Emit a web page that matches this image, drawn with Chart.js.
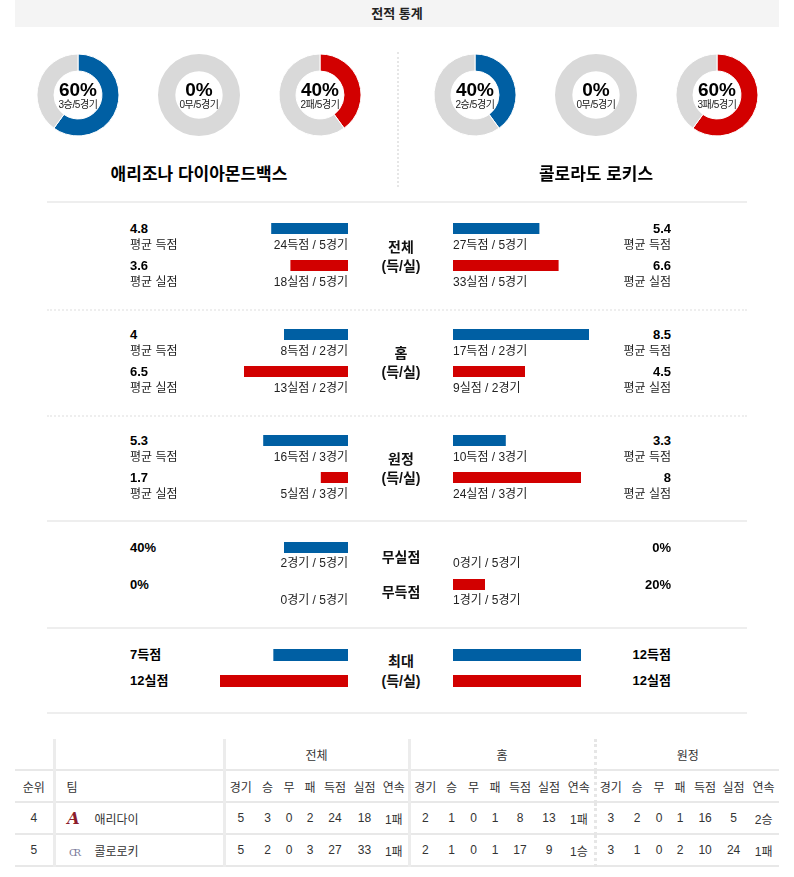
<!DOCTYPE html>
<html lang="ko">
<head>
<meta charset="utf-8">
<script src="https://cdn.jsdelivr.net/npm/chart.js@4.4.1/dist/chart.umd.min.js"></script>
<style>
  body { margin: 0; background: #fff; font-family: "Liberation Sans", "Noto Sans CJK KR", sans-serif; color: #111; }
  #page { position: relative; width: 794px; height: 877px; overflow: hidden; }
  #page canvas { position: absolute; }
  .t { position: absolute; white-space: nowrap; line-height: 20px; font-size: 12px; color: #222; }
  .num { font-weight: bold; font-size: 13px; color: #000; }
  .mid { font-weight: bold; font-size: 14px; color: #111; }
  .pct { font-weight: bold; font-size: 19px; color: #000; }
  .sub { font-size: 10px; letter-spacing: -0.4px; color: #222; }
  .team { font-weight: bold; font-size: 17px; color: #000; }
  .hline { position: absolute; left: 47px; width: 700px; height: 0; border-top: 2px solid #eeeeee; }
  .hline.dot { border-top-style: dotted; }
  #title { position: absolute; left: 15px; top: 0; width: 764px; height: 27px; background: #f4f4f4;
           text-align: center; line-height: 27px; font-size: 13px; font-weight: bold; color: #222; }
  #vdiv { position: absolute; left: 397px; top: 52px; height: 135px; border-left: 2px dotted #e6e6e6; }
  #standings { position: absolute; left: 15px; top: 739px; width: 764px; border-collapse: collapse;
               table-layout: fixed; font-size: 12px; color: #333; }
  #standings td { padding: 0; text-align: center; white-space: nowrap; height: 30px; border-bottom: 2px solid #e8e8e8; }
  #standings td.vs { border-right: 3px solid #ececec; }
  #standings td.vd { border-right: 3px dotted #e6e6e6; }
  #standings td.name { text-align: left; padding-left: 11px; }
  .logo { display: inline-block; width: 14px; margin-right: 14px; text-align: center; font-family: "DejaVu Serif", serif; }
</style>
</head>
<body>
<div id="page">
  <div id="title">전적 통계</div>
  <div id="vdiv"></div>
</div>
<script>
const BLUE = '#005fa3';
const RED = '#d20000';
const RING = '#d9d9d9';

// 최근 5경기 승/무/패
const teamNames = ['애리조나 다이아몬드백스', '콜로라도 로키스'];
const resultNames = ['승', '무', '패'];
const gamesPlayed = 5;
const arizonaResults = [3, 0, 2];
const coloradoResults = [2, 0, 3];

// 득점/실점 (전체, 홈, 원정)
const splitNames = ['전체', '홈', '원정'];
const splitGames = [5, 2, 3];
const arizonaScored = [24, 8, 16];
const arizonaAllowed = [18, 13, 5];
const arizonaAvgScored = [4.8, 4, 5.3];
const arizonaAvgAllowed = [3.6, 6.5, 1.7];
const coloradoScored = [27, 17, 10];
const coloradoAllowed = [33, 9, 24];
const coloradoAvgScored = [5.4, 8.5, 3.3];
const coloradoAvgAllowed = [6.6, 4.5, 8];

// 무실점 / 무득점
const shutoutNames = ['무실점', '무득점'];
const arizonaShutoutGames = [2, 0];
const arizonaShutoutPct = [40, 0];
const coloradoShutoutGames = [0, 1];
const coloradoShutoutPct = [0, 20];

// 최대 득점 / 실점
const arizonaMax = [7, 12];
const coloradoMax = [12, 12];

// 순위표
const tableGroups = ['전체', '홈', '원정'];
const tableColumns = ['경기', '승', '무', '패', '득점', '실점', '연속'];
const standingRanks = [4, 5];
const standingTeams = ['애리다이', '콜로로키'];
const arizonaTotal = [5, 3, 0, 2, 24, 18, '1패'];
const arizonaHome = [2, 1, 0, 1, 8, 13, '1패'];
const arizonaAway = [3, 2, 0, 1, 16, 5, '2승'];
const coloradoTotal = [5, 2, 0, 3, 27, 33, '1패'];
const coloradoHome = [2, 1, 0, 1, 17, 9, '1승'];
const coloradoAway = [3, 1, 0, 2, 10, 24, '1패'];

const page = document.getElementById('page');

function text(str, x, y, cls, align) {
    const el = document.createElement('div');
    el.className = 't ' + (cls || '');
    el.textContent = str;
    el.style.top = (y - 10) + 'px';
    if (align === 'right') {
        el.style.right = (794 - x) + 'px';
    } else if (align === 'center') {
        el.style.left = x + 'px';
        el.style.transform = 'translateX(-50%)';
    } else {
        el.style.left = x + 'px';
    }
    page.appendChild(el);
}

function makeCanvas(left, top, w, h) {
    const c = document.createElement('canvas');
    c.width = w;
    c.height = h;
    c.style.left = left + 'px';
    c.style.top = top + 'px';
    page.appendChild(c);
    return c;
}

// DONUTS
const donutX = [[78, 199, 320], [475, 596, 717]];
const donutY = 95;
const resultColors = [BLUE, BLUE, RED];

[arizonaResults, coloradoResults].forEach((results, t) => {
    results.forEach((v, i) => {
        const cx = donutX[t][i];
        const canvas = makeCanvas(cx - 45, donutY - 45, 90, 90);
        new Chart(canvas, {
            type: 'doughnut',
            data: {
                labels: [resultNames[i], ''],
                datasets: [{
                    data: [v, gamesPlayed - v],
                    backgroundColor: [resultColors[i], RING],
                    borderColor: '#fff',
                    borderWidth: v === 0 ? 0 : 1
                }]
            },
            options: {
                responsive: false,
                animation: false,
                events: [],
                radius: 41,
                cutout: 26,
                layout: { padding: 0 },
                plugins: { legend: { display: false }, tooltip: { enabled: false } }
            }
        });
        text(Math.round(v / gamesPlayed * 100) + '%', cx, donutY - 5, 'pct', 'center');
        text(v + resultNames[i] + '/' + gamesPlayed + '경기', cx, donutY + 9.5, 'sub', 'center');
    });
});
text(teamNames[0], 199, 175, 'team', 'center');
text(teamNames[1], 596, 175, 'team', 'center');

// SEPARATORS
[[201, false], [309, true], [415, true], [520, false], [627, false], [712, false]].forEach(([y, dotted]) => {
    const d = document.createElement('div');
    d.className = 'hline' + (dotted ? ' dot' : '');
    d.style.top = y + 'px';
    page.appendChild(d);
});

// BARS
const LEFT_X = 188, RIGHT_X = 453, BAR_W = 160;
const L_TXT = 130, R_TXT = 671, MID = 401;

function bars(x, c1, gap, values, max, reverse, thickness) {
    const canvas = makeCanvas(x, c1 - Math.round(gap / 2), BAR_W, gap * 2);
    new Chart(canvas, {
        type: 'bar',
        data: {
            labels: ['득', '실'],
            datasets: [{
                data: values,
                backgroundColor: [BLUE, RED],
                barThickness: thickness,
                borderWidth: 0,
                inflateAmount: 0
            }]
        },
        options: {
            indexAxis: 'y',
            responsive: false,
            animation: false,
            events: [],
            layout: { padding: 0 },
            plugins: { legend: { display: false }, tooltip: { enabled: false } },
            scales: {
                x: { display: false, min: 0, max: max, reverse: reverse },
                y: { display: false }
            }
        }
    });
}

const splitRows = [[229, 266], [335, 372], [441, 478]];
splitNames.forEach((name, i) => {
    const [c1, c2] = splitRows[i];
    const g = splitGames[i];
    bars(LEFT_X, c1, c2 - c1, [arizonaAvgScored[i], arizonaAvgAllowed[i]], 10, true, 11);
    bars(RIGHT_X, c1, c2 - c1, [coloradoAvgScored[i], coloradoAvgAllowed[i]], 10, false, 11);

    text(String(arizonaAvgScored[i]), L_TXT, c1, 'num');
    text('평균 득점', L_TXT, c1 + 15.5);
    text(String(arizonaAvgAllowed[i]), L_TXT, c2, 'num');
    text('평균 실점', L_TXT, c2 + 15.5);
    text(arizonaScored[i] + '득점 / ' + g + '경기', LEFT_X + BAR_W, c1 + 15.5, '', 'right');
    text(arizonaAllowed[i] + '실점 / ' + g + '경기', LEFT_X + BAR_W, c2 + 15.5, '', 'right');

    text(coloradoScored[i] + '득점 / ' + g + '경기', RIGHT_X, c1 + 15.5);
    text(coloradoAllowed[i] + '실점 / ' + g + '경기', RIGHT_X, c2 + 15.5);
    text(String(coloradoAvgScored[i]), R_TXT, c1, 'num', 'right');
    text('평균 득점', R_TXT, c1 + 15.5, '', 'right');
    text(String(coloradoAvgAllowed[i]), R_TXT, c2, 'num', 'right');
    text('평균 실점', R_TXT, c2 + 15.5, '', 'right');

    text(name, MID, c2 - 19, 'mid', 'center');
    text('(득/실)', MID, c2, 'mid', 'center');
});

// 무실점 / 무득점
(function () {
    const c1 = 548, c2 = 585;
    bars(LEFT_X, c1, c2 - c1, arizonaShutoutPct, 100, true, 11);
    bars(RIGHT_X, c1, c2 - c1, coloradoShutoutPct, 100, false, 11);
    [c1, c2].forEach((c, k) => {
        text(arizonaShutoutPct[k] + '%', L_TXT, c, 'num');
        text(arizonaShutoutGames[k] + '경기 / ' + gamesPlayed + '경기', LEFT_X + BAR_W, c + 15, '', 'right');
        text(coloradoShutoutGames[k] + '경기 / ' + gamesPlayed + '경기', RIGHT_X, c + 15);
        text(coloradoShutoutPct[k] + '%', R_TXT, c, 'num', 'right');
    });
    text(shutoutNames[0], MID, c1 + 8.5, 'mid', 'center');
    text(shutoutNames[1], MID, c2 + 7, 'mid', 'center');
})();

// 최대 득/실
(function () {
    const c1 = 655, c2 = 681;
    bars(LEFT_X, c1, c2 - c1, arizonaMax, 15, true, 12);
    bars(RIGHT_X, c1, c2 - c1, coloradoMax, 15, false, 12);
    text(arizonaMax[0] + '득점', L_TXT, c1, 'num');
    text(arizonaMax[1] + '실점', L_TXT, c2, 'num');
    text(coloradoMax[0] + '득점', R_TXT, c1, 'num', 'right');
    text(coloradoMax[1] + '실점', R_TXT, c2, 'num', 'right');
    text('최대', MID, c1 + 5.5, 'mid', 'center');
    text('(득/실)', MID, c2, 'mid', 'center');
})();

// STANDINGS TABLE
const colWidths = [39, 170, 32, 23, 20, 22, 28, 31, 29, 31, 23, 21, 22, 28, 30, 31, 30, 24, 20, 22, 28, 29, 31];
const table = document.createElement('table');
table.id = 'standings';
const colgroup = document.createElement('colgroup');
colWidths.forEach(w => {
    const col = document.createElement('col');
    col.style.width = w + 'px';
    colgroup.appendChild(col);
});
table.appendChild(colgroup);

function cell(tr, content, cls, span) {
    const td = document.createElement('td');
    if (cls) td.className = cls;
    if (span) td.colSpan = span;
    if (content instanceof Node) td.appendChild(content);
    else td.textContent = content;
    tr.appendChild(td);
    return td;
}
const groupSep = ['vs', 'vd', ''];

let tr = document.createElement('tr');
cell(tr, '', 'vs');
cell(tr, '', 'vs');
tableGroups.forEach((g, i) => cell(tr, g, groupSep[i], 7));
table.appendChild(tr);

tr = document.createElement('tr');
cell(tr, '순위', 'vs');
cell(tr, '팀', 'vs name');
tableGroups.forEach((g, i) => tableColumns.forEach((c, j) => cell(tr, c, j === 6 ? groupSep[i] : '')));
table.appendChild(tr);

const logos = [
    { ch: 'A', style: 'font-weight:bold;font-style:italic;font-size:16px;color:#8c1d2c' },
    { ch: 'CR', style: 'font-size:10px;letter-spacing:-3px;color:#7d7c9c' }
];
[[arizonaTotal, arizonaHome, arizonaAway], [coloradoTotal, coloradoHome, coloradoAway]].forEach((rows, r) => {
    tr = document.createElement('tr');
    cell(tr, String(standingRanks[r]), 'vs');
    const nameBox = document.createElement('span');
    const logo = document.createElement('span');
    logo.className = 'logo';
    logo.textContent = logos[r].ch;
    logo.style.cssText = logos[r].style;
    nameBox.appendChild(logo);
    nameBox.appendChild(document.createTextNode(standingTeams[r]));
    cell(tr, nameBox, 'vs name');
    rows.forEach((vals, i) => vals.forEach((v, j) => cell(tr, String(v), j === 6 ? groupSep[i] : '')));
    table.appendChild(tr);
});
page.appendChild(table);
</script>
</body>
</html>
